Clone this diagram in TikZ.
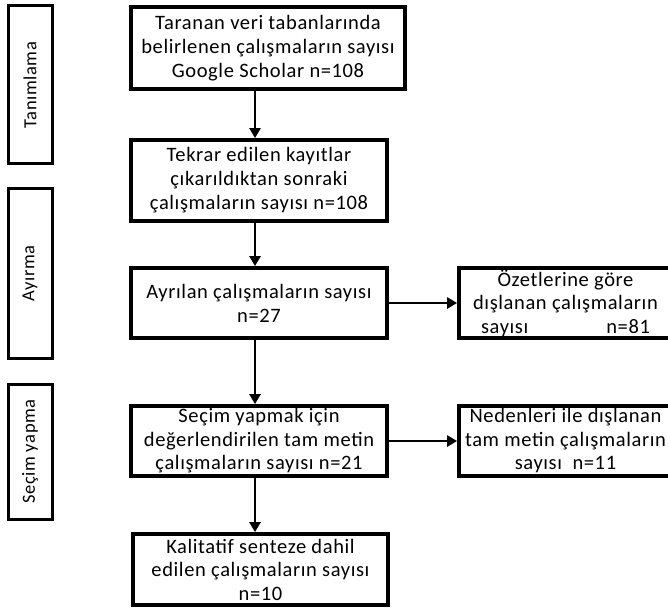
\documentclass[tikz,border=0pt]{standalone}
\usepackage{fontspec}
\setmainfont{Carlito}[LetterSpace=3]
\usetikzlibrary{arrows.meta}
\begin{document}
\begin{tikzpicture}[x=1pt,y=-1pt,
  mainbox/.style={draw, line width=3.8pt, inner sep=0pt, align=center,
    font=\fontsize{20.5}{24}\selectfont},
  sidebox/.style={draw, line width=3pt, inner sep=0pt},
  sidelabel/.style={rotate=90, font=\fontsize{18.5}{22}\selectfont},
  arr/.style={line width=2.6pt, -{Triangle[length=10pt,width=11pt]}}]
\useasboundingbox (0,0) rectangle (668,609);
\clip (0,0) rectangle (668,609);
% side labels
\node[sidebox, minimum width=44pt, minimum height=158pt] (s1) at (30,85) {};
\node[sidelabel] (t1) at (s1.center) {Tanımlama};
\node[sidebox, minimum width=44pt, minimum height=169pt] (s2) at (30,273.5) {};
\node[sidelabel] (t2) at (s2.center) {Ayırma};
\node[sidebox, minimum width=44pt, minimum height=135pt] (s3) at (30,451.5) {};
\node[sidelabel] (t3) at (s3.center) {Seçim yapma};
% main boxes
\node[mainbox, minimum width=274pt, minimum height=82pt] (b1) at (268,48)
  {Taranan veri tabanlarında\\belirlenen çalışmaların sayısı\\Google Scholar n=108};
\node[mainbox, minimum width=256pt, minimum height=81pt] (b2) at (259,180.5)
  {Tekrar edilen kayıtlar\\çıkarıldıktan sonraki\\çalışmaların sayısı n=108};
\node[mainbox, minimum width=256pt, minimum height=70pt] (b3) at (259,303)
  {Ayrılan çalışmaların sayısı\\n=27};
\node[mainbox, minimum width=213pt, minimum height=70pt, font=\fontsize{20.5}{23.5}\selectfont] (b4) at (565.5,303)
  {Özetlerine göre\\dışlanan çalışmaların\\sayısı\hspace{78pt}n=81};
\node[mainbox, minimum width=256pt, minimum height=70pt, font=\fontsize{20.5}{23.5}\selectfont] (b5) at (259,441)
  {Seçim yapmak için\\değerlendirilen tam metin\\çalışmaların sayısı n=21};
\node[mainbox, minimum width=213pt, minimum height=70pt, font=\fontsize{20.5}{23.5}\selectfont] (b6) at (565.5,441)
  {Nedenleri ile dışlanan\\tam metin çalışmaların\\sayısı~~n=11};
\node[mainbox, minimum width=255pt, minimum height=71pt, font=\fontsize{20.5}{23.5}\selectfont] (b7) at (260.5,569.5)
  {Kalitatif senteze dahil\\edilen çalışmaların sayısı\\n=10};
% connectors
\coordinate (ax) at (255,0);
\draw[arr] (b1.south -| ax) -- (b2.north -| ax);
\draw[arr] (b2.south -| ax) -- (b3.north -| ax);
\draw[arr] (b3.south -| ax) -- (b5.north -| ax);
\draw[arr] (b5.south -| ax) -- (b7.north -| ax);
\draw[arr] (b3.east) -- (b4.west);
\draw[arr] (b5.east) -- (b6.west);
\end{tikzpicture}
\end{document}
